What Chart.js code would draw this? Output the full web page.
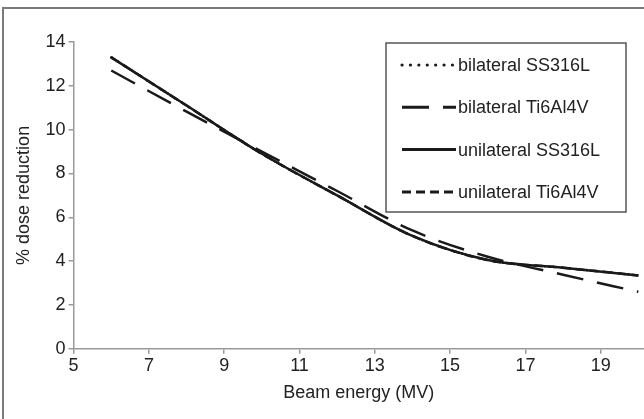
<!DOCTYPE html>
<html>
<head>
<meta charset="utf-8">
<script src="https://cdn.jsdelivr.net/npm/chart.js@4/dist/chart.umd.min.js"></script>
<style>
html,body{margin:0;padding:0;background:#fff;}
#wrap{position:relative;width:644px;height:419px;}
</style>
</head>
<body>
<div id="wrap"><canvas id="c" width="644" height="419"></canvas></div>
<script>
// ---- data ----
const energies = [6, 8, 10, 12, 14, 16, 18, 20];
const bilateralSS316L   = [13.3, 11.1, 8.9, 7.0, 5.15, 4.05, 3.7, 3.35];
const bilateralTi6Al4V  = [12.7, 10.82, 9.0, 7.2, 5.4, 4.2, 3.38, 2.6];
const unilateralSS316L  = [13.3, 11.1, 8.9, 7.0, 5.15, 4.05, 3.7, 3.35];
const unilateralTi6Al4V = [13.3, 11.1, 8.9, 7.0, 5.15, 4.05, 3.7, 3.35];
const seriesLabels = ['bilateral SS316L', 'bilateral Ti6Al4V', 'unilateral SS316L', 'unilateral Ti6Al4V'];
const xTickValues = [5, 7, 9, 11, 13, 15, 17, 19];
const yTickValues = [0, 2, 4, 6, 8, 10, 12, 14];

const FONT = '"Liberation Sans", Arial, sans-serif';
const FS = 18;
const INK = '#1a1a1a';
const TXT = '#222222';

function pts(ys){ return energies.map((x,i)=>({x:x,y:ys[i]})); }

const styles = [
  {dash:[0.1, 8.3], cap:'round', w:2.6, order:3},
  {dash:[27, 14], cap:'butt', w:2.5, order:0},
  {dash:[], cap:'butt', w:2.5, order:1},
  {dash:[9, 5], cap:'butt', w:2.5, order:2}
];
const allSeries = [bilateralSS316L, bilateralTi6Al4V, unilateralSS316L, unilateralTi6Al4V];

const datasets = allSeries.map((s,i)=>({
  label: seriesLabels[i],
  data: pts(s),
  borderColor: INK,
  backgroundColor: INK,
  borderWidth: styles[i].w,
  borderDash: styles[i].dash,
  borderCapStyle: styles[i].cap,
  pointRadius: 0,
  tension: 0.4,
  cubicInterpolationMode: 'monotone',
  fill: false,
  order: styles[i].order
}));

const framePlugin = {
  id: 'frame',
  beforeDraw(chart){
    const ctx = chart.ctx;
    ctx.save();
    ctx.fillStyle = '#fff';
    ctx.fillRect(0,0,chart.width,chart.height);
    ctx.strokeStyle = '#7a7a7a';
    ctx.lineWidth = 2;
    ctx.beginPath();
    ctx.moveTo(3, chart.height + 5);
    ctx.lineTo(3, 8);
    ctx.lineTo(chart.width + 5, 8);
    ctx.stroke();
    ctx.restore();
  },
  afterDraw(chart){
    const ctx = chart.ctx;
    ctx.save();
    const bx = 386, by = 43, bw = 240, bh = 169;
    ctx.fillStyle = '#fff';
    ctx.fillRect(bx, by, bw, bh);
    ctx.strokeStyle = '#555';
    ctx.lineWidth = 1.5;
    ctx.strokeRect(bx, by, bw, bh);
    chart.data.datasets.forEach((ds,i)=>{
      const y = 65 + i*42.3;
      ctx.beginPath();
      ctx.strokeStyle = ds.borderColor;
      ctx.lineWidth = ds.borderWidth + 0.5;
      ctx.lineCap = ds.borderCapStyle;
      ctx.setLineDash(ds.borderDash);
      ctx.moveTo(402, y);
      ctx.lineTo(456, y);
      ctx.stroke();
      ctx.setLineDash([]);
      ctx.fillStyle = TXT;
      ctx.font = FS + 'px ' + FONT;
      ctx.textBaseline = 'middle';
      ctx.textAlign = 'left';
      ctx.fillText(ds.label, 458, y + 1);
    });
    ctx.restore();
  }
};

new Chart(document.getElementById('c'), {
  type: 'line',
  data: { datasets: datasets },
  options: {
    responsive: false,
    animation: false,
    devicePixelRatio: 1,
    layout: { padding: { top: 42, right: 0, bottom: 15, left: 13 } },
    plugins: {
      legend: { display: false },
      tooltip: { enabled: false }
    },
    scales: {
      x: {
        type: 'linear',
        min: 5,
        max: 20.15,
        afterBuildTicks(axis){ axis.ticks = xTickValues.map(v=>({value:v})); },
        grid: { display: true, drawOnChartArea: false, drawTicks: true, tickLength: 5, color: '#999', lineWidth: 1.5 },
        border: { display: true, color: '#999', width: 1.5 },
        ticks: { color: TXT, font: { family: FONT, size: FS }, padding: 1, maxRotation: 0, autoSkip: false },
        title: { display: true, text: 'Beam energy (MV)', color: TXT, font: { family: FONT, size: FS }, padding: { top: 5, bottom: 0 } }
      },
      y: {
        type: 'linear',
        min: 0,
        max: 14,
        afterBuildTicks(axis){ axis.ticks = yTickValues.map(v=>({value:v})); },
        grid: { display: true, drawOnChartArea: false, drawTicks: true, tickLength: 5, color: '#999', lineWidth: 1.5 },
        border: { display: true, color: '#999', width: 1.5 },
        ticks: { color: TXT, font: { family: FONT, size: FS }, padding: 3 },
        title: { display: true, text: '% dose reduction', color: TXT, font: { family: FONT, size: FS }, padding: { top: 0, bottom: 8 } }
      }
    }
  },
  plugins: [framePlugin]
});
</script>
</body>
</html>
